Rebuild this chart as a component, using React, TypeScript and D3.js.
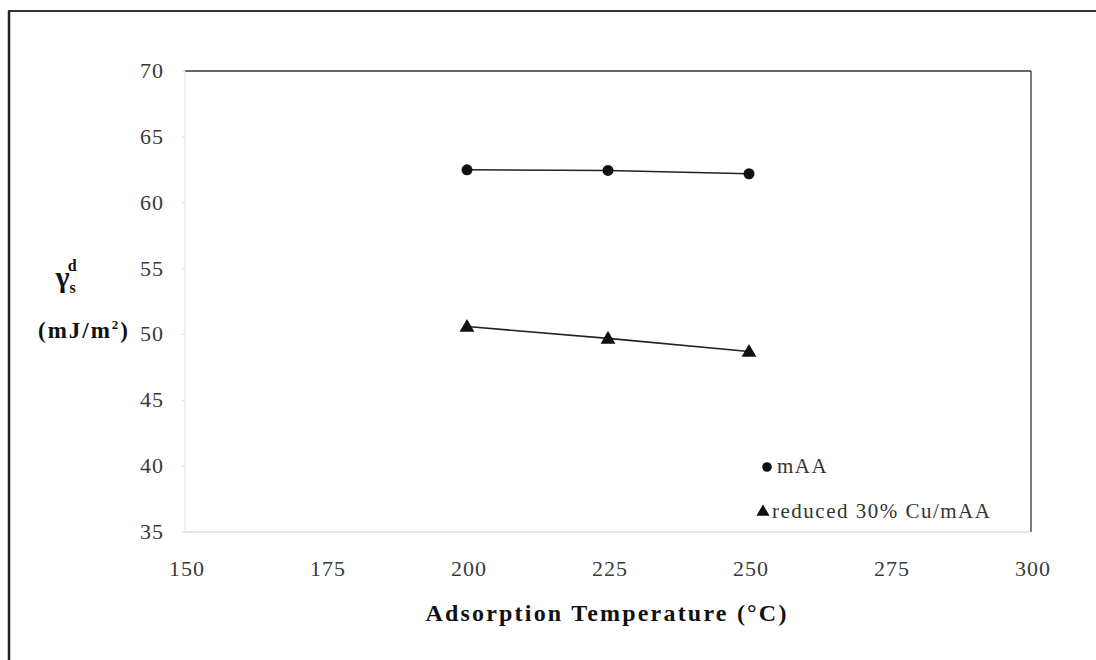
import React from "react";
import * as d3 from "d3";

const temperatures = [200, 225, 250];
const mAA = [62.5, 62.45, 62.2];
const reducedCu = [50.6, 49.7, 48.7];
const xTicks = [150, 175, 200, 225, 250, 275, 300];
const yTicks = [35, 40, 45, 50, 55, 60, 65, 70];
const seriesNames = ["mAA", "reduced 30% Cu/mAA"];

const W = 1096;
const H = 660;
const plot = { left: 185, right: 1031, top: 71, bottom: 532 };
const serif = "'Liberation Serif', 'Times New Roman', serif";

export default function App() {
  const x = d3.scaleLinear().domain([150, 300]).range([plot.left, plot.right]);
  const y = d3.scaleLinear().domain([35, 70]).range([plot.bottom, plot.top]);
  const line = d3
    .line<number>()
    .x((_, i) => x(temperatures[i]))
    .y((d) => y(d));
  const tri = d3.symbol().type(d3.symbolTriangle).size(95)();
  const triSmall = d3.symbol().type(d3.symbolTriangle).size(75)();

  return (
    <svg
      width={W}
      height={H}
      style={{ position: "absolute", left: 0, top: 0, background: "#fff" }}
    >
      {/* outer frame (top and left edges) */}
      <line x1={8} y1={11} x2={W} y2={11} stroke="#333" strokeWidth={2} />
      <line x1={9} y1={11} x2={9} y2={H} stroke="#222" strokeWidth={2.5} />

      {/* plot area border */}
      <line x1={plot.left} y1={plot.top} x2={plot.right} y2={plot.top} stroke="#333" strokeWidth={1.3} />
      <line x1={plot.right} y1={plot.top} x2={plot.right} y2={plot.bottom} stroke="#333" strokeWidth={1.3} />
      <line x1={plot.left} y1={plot.bottom} x2={plot.right} y2={plot.bottom} stroke="#ccc" strokeWidth={1} />
      <line x1={plot.left} y1={plot.top} x2={plot.left} y2={plot.bottom} stroke="#e2e2e2" strokeWidth={1} />

      {/* y ticks */}
      {yTicks.map((t) => (
        <g key={"y" + t}>
          <line x1={plot.left - 3} x2={plot.left} y1={y(t)} y2={y(t)} stroke="#ddd" />
          <text
            x={164}
            y={y(t) + 7}
            textAnchor="end"
            fontFamily={serif}
            fontSize={22}
            fill="#3a3a3a"
            letterSpacing={1}
          >
            {t}
          </text>
        </g>
      ))}

      {/* x ticks */}
      {xTicks.map((t) => (
        <text
          key={"x" + t}
          x={x(t) + 2}
          y={576}
          textAnchor="middle"
          fontFamily={serif}
          fontSize={22}
          fill="#3a3a3a"
          letterSpacing={1}
        >
          {t}
        </text>
      ))}

      {/* series lines */}
      <path d={line(mAA) || ""} fill="none" stroke="#222" strokeWidth={1.6} />
      <path d={line(reducedCu) || ""} fill="none" stroke="#222" strokeWidth={1.6} />

      {mAA.map((v, i) => (
        <circle key={"c" + i} cx={x(temperatures[i])} cy={y(v)} r={5.5} fill="#111" />
      ))}
      {reducedCu.map((v, i) => (
        <path
          key={"t" + i}
          d={tri || ""}
          transform={`translate(${x(temperatures[i])},${y(v) + 1})`}
          fill="#111"
        />
      ))}

      {/* legend */}
      <circle cx={767} cy={467} r={4.8} fill="#111" />
      <text x={777} y={473} fontFamily={serif} fontSize={21} fill="#333" letterSpacing={1.5}>
        {seriesNames[0]}
      </text>
      <path d={triSmall || ""} transform="translate(763,512)" fill="#111" />
      <text x={772} y={518} fontFamily={serif} fontSize={21} fill="#333" letterSpacing={1.5}>
        {seriesNames[1]}
      </text>

      {/* y-axis title */}
      <text x={66} y={287} textAnchor="middle" fontFamily={serif} fontSize={30} fontWeight="bold" fill="#111">
        γ
        <tspan fontSize={16} dy={6}>s</tspan>
        <tspan fontSize={16} dx={-8} dy={-22}>d</tspan>
      </text>
      <text x={84} y={338} textAnchor="middle" fontFamily={serif} fontSize={23} fontWeight="bold" fill="#111" letterSpacing={2}>
        (mJ/m
        <tspan fontSize={13} dy={-9}>2</tspan>
        <tspan dy={9}>)</tspan>
      </text>

      {/* x-axis title */}
      <text
        x={607}
        y={621}
        textAnchor="middle"
        fontFamily={serif}
        fontSize={24}
        fontWeight="bold"
        fill="#111"
        letterSpacing={2.2}
      >
        Adsorption Temperature (°C)
      </text>
    </svg>
  );
}
